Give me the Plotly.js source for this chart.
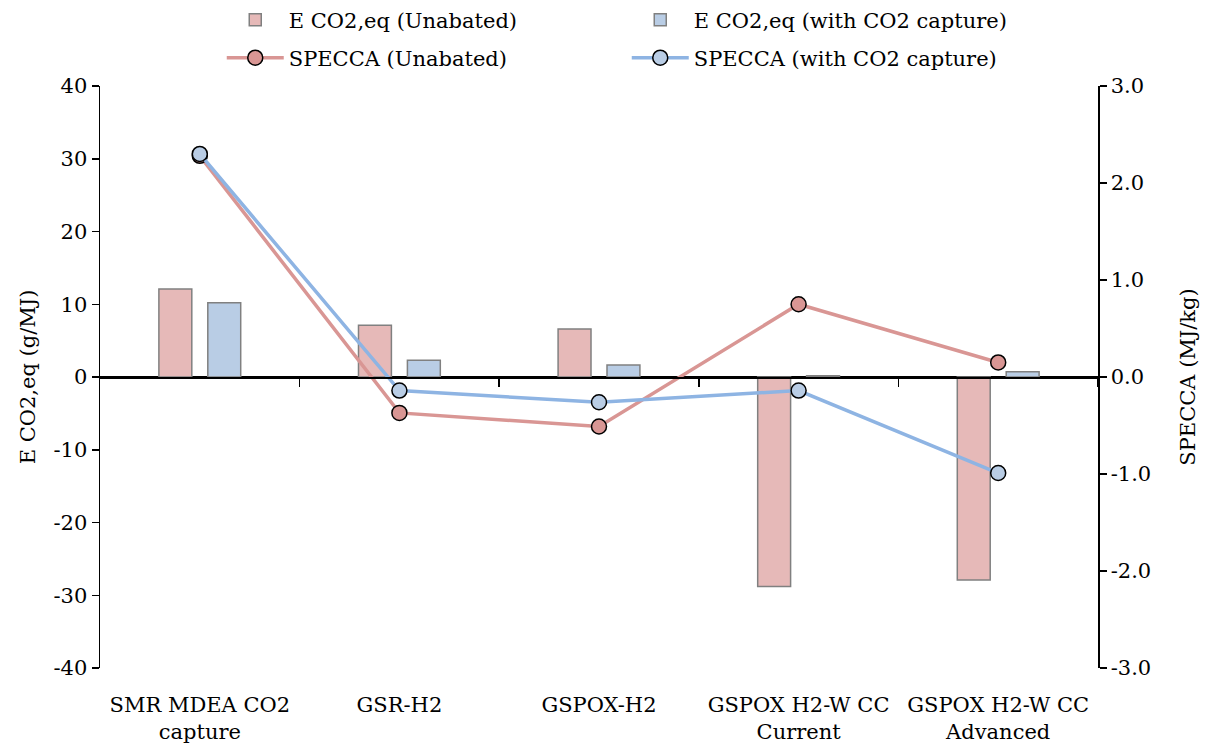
<!DOCTYPE html>
<html>
<head>
<meta charset="utf-8">
<script src="https://cdn.plot.ly/plotly-3.0.1.min.js"></script>
<style>html,body{margin:0;padding:0;background:#fff;}#chart{width:1209px;height:748px;}</style>
</head>
<body>
<div id="chart"></div>
<script>
const categories = ["SMR MDEA CO2<br>capture", "GSR-H2", "GSPOX-H2", "GSPOX H2-W CC<br>Current", "GSPOX H2-W CC<br>Advanced"];
const eUnabated = [12.1, 7.1, 6.6, -28.8, -27.9];
const eCapture = [10.2, 2.3, 1.65, 0.18, 0.72];
const speccaUnabated = [2.28, -0.37, -0.51, 0.75, 0.15];
const speccaCapture = [2.30, -0.14, -0.26, -0.14, -0.99];
const leftTicks = [-40, -30, -20, -10, 0, 10, 20, 30, 40];
const leftTickText = ["-40", "-30", "-20", "-10", "0", "10", "20", "30", "40"];
const rightTicks = [-3, -2, -1, 0, 1, 2, 3];
const rightTickText = ["-3.0", "-2.0", "-1.0", "0.0", "1.0", "2.0", "3.0"];

const FONT = "DejaVu Serif";
const fs = 21;
const traces = [
  {type: "bar", name: "E CO2,eq (Unabated)", x: categories, y: eUnabated,
   marker: {color: "#E6B9B8", line: {color: "#808080", width: 1.5}}, legend: "legend"},
  {type: "bar", name: "E CO2,eq (with CO2 capture)", x: categories, y: eCapture,
   marker: {color: "#B9CDE5", line: {color: "#808080", width: 1.5}}, legend: "legend"},
  {type: "scatter", mode: "markers", x: [0], y: [null], xaxis: "x2", yaxis: "y", showlegend: false, hoverinfo: "skip"},
  {type: "scatter", mode: "lines+markers", name: "SPECCA (Unabated)", x: categories, y: speccaUnabated, yaxis: "y2",
   line: {color: "#D99694", width: 3.5}, marker: {size: 15, color: "#D99694", line: {color: "#000", width: 1.5}}, legend: "legend2"},
  {type: "scatter", mode: "lines+markers", name: "SPECCA (with CO2 capture)", x: categories, y: speccaCapture, yaxis: "y2",
   line: {color: "#8EB4E3", width: 3.5}, marker: {size: 15, color: "#B9CDE5", line: {color: "#000", width: 1.5}}, legend: "legend2"}
];

const layout = {
  width: 1209, height: 748,
  margin: {l: 100, r: 111, t: 86, b: 80, autoexpand: false},
  paper_bgcolor: "#fff", plot_bgcolor: "#fff",
  font: {family: FONT, size: fs, color: "#000"},
  barmode: "group", bargap: 0.51, bargroupgap: 0.327,
  showlegend: true,
  legend: {orientation: "h", x: 0.122, xanchor: "left", y: (668 - 20) / 582, yanchor: "middle",
           entrywidth: 333, itemwidth: 57, font: {family: FONT, size: fs}, bgcolor: "rgba(0,0,0,0)"},
  legend2: {orientation: "h", x: 0.122, xanchor: "left", y: (668 - 58) / 582, yanchor: "middle",
           entrywidth: 333, itemwidth: 57, font: {family: FONT, size: fs}, bgcolor: "rgba(0,0,0,0)"},
  xaxis: {type: "category", showline: false, ticks: "", showgrid: false, zeroline: false,
          tickfont: {family: FONT, size: fs}, ticklabelstandoff: 22},
  xaxis2: {overlaying: "x", anchor: "free", position: 0.5, type: "linear",
           range: [-0.5, categories.length - 0.5],
           tickvals: categories.map((_, i) => i + 0.5), showticklabels: false,
           showline: true, linecolor: "#000", linewidth: 1.5, ticks: "outside", ticklen: 8, tickwidth: 1.5, tickcolor: "#000",
           showgrid: false, zeroline: false},
  yaxis: {range: [-40, 40], tickvals: leftTicks, ticktext: leftTickText, showline: true, linecolor: "#000", linewidth: 1.5,
          ticks: "outside", ticklen: 7, tickwidth: 1.5, tickcolor: "#000", showgrid: false,
          zeroline: true, zerolinecolor: "#000", zerolinewidth: 1.5,
          title: {text: "E CO2,eq (g/MJ)", font: {family: FONT, size: fs}, standoff: 12}},
  yaxis2: {overlaying: "y", side: "right", range: [-3, 3], tickvals: rightTicks, ticktext: rightTickText,
           showline: true, linecolor: "#000", linewidth: 1.5, ticks: "outside", ticklen: 7, tickwidth: 1.5, tickcolor: "#000",
           showgrid: false, zeroline: false,
           title: {text: "SPECCA (MJ/kg)", font: {family: FONT, size: fs}, standoff: 30}}
};
Plotly.newPlot("chart", traces, layout, {staticPlot: true, displayModeBar: false});
</script>
</body>
</html>
